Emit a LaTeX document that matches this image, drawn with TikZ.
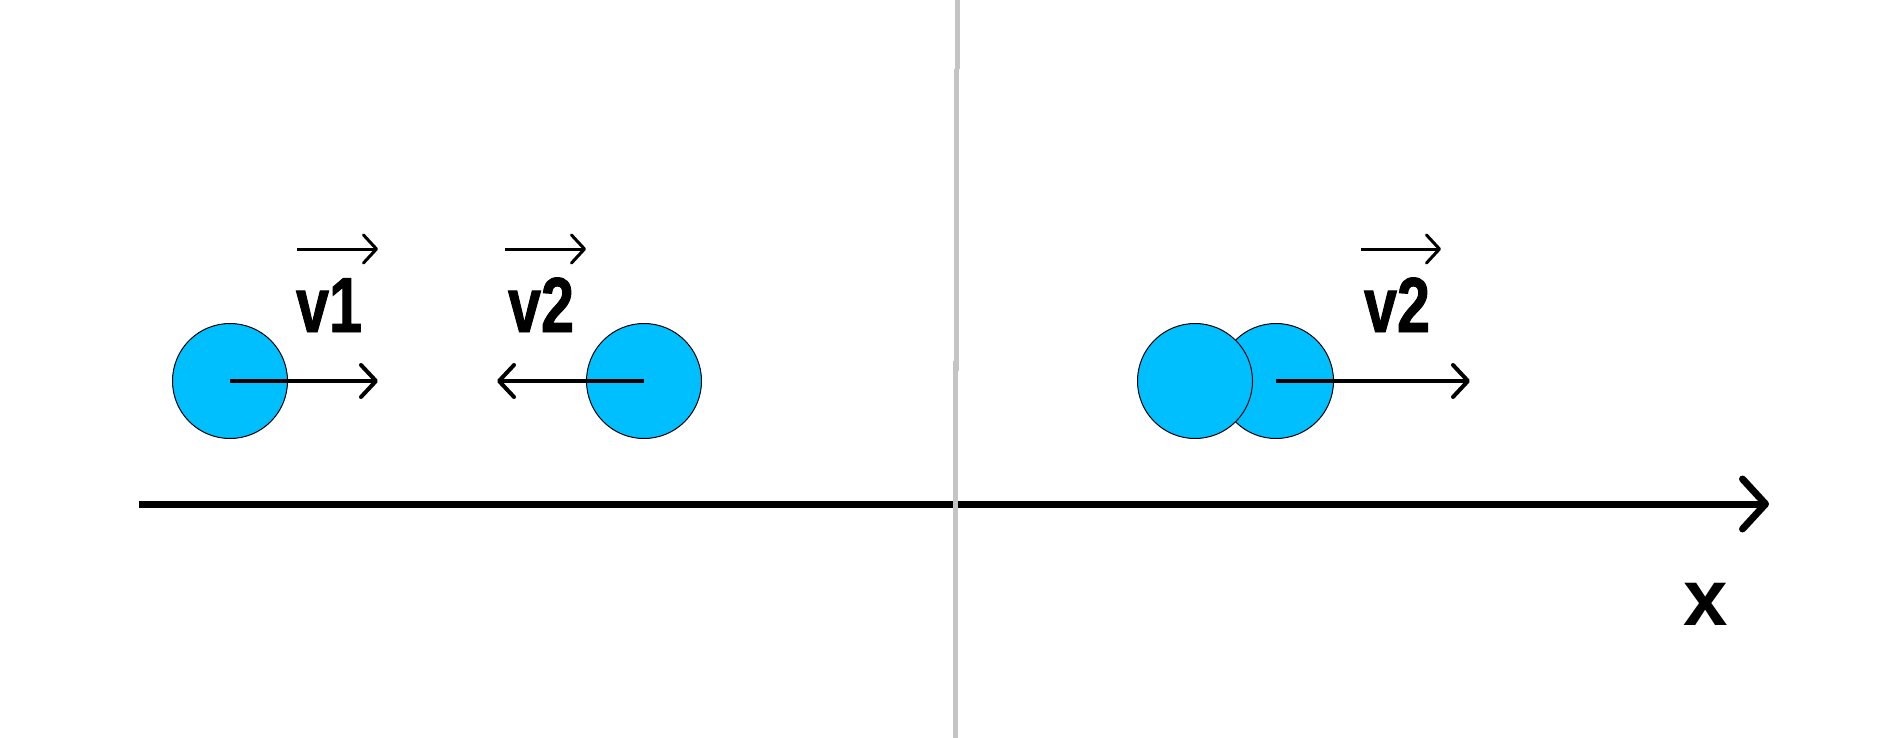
\documentclass[tikz,border=0pt]{standalone}
\usepackage{fontspec}
\usetikzlibrary{arrows.meta}
\newfontfamily\lab{Liberation Sans}[FakeStretch=0.76, FakeBold=1.2]
\newfontfamily\labx{Liberation Sans}
\definecolor{ballblue}{RGB}{0,191,255}
\definecolor{divgray}{RGB}{196,196,196}
\tikzset{
  ball/.style={circle, draw=black, line width=1pt, fill=ballblue, minimum size=115pt, inner sep=0pt},
  vel/.style={line width=4pt, -{Straight Barb[length=15pt, width=32pt, line cap=round, line join=round]}},
  vecmark/.style={line width=3pt, -{Straight Barb[length=13pt, width=28pt, line cap=round, line join=round]}},
  axis/.style={line width=7pt, -{Straight Barb[length=23pt, width=50pt, line cap=round, line join=round]}},
  divider/.style={line width=5pt, draw=divgray},
  vlabel/.style={anchor=base, inner sep=0pt, font=\lab\bfseries\fontsize{78}{78}\selectfont},
  xlabel/.style={anchor=base, inner sep=0pt, font=\labx\bfseries\fontsize{80}{80}\selectfont}
}
\begin{document}
\begin{tikzpicture}[x=1pt, y=-1pt]
\useasboundingbox (0,0) rectangle (1903,738);
\fill[white] (0,0) rectangle (1903,738);
% axis
\coordinate (axL) at (139,504);
\coordinate (axR) at (1769,504);
\draw[axis] (axL) -- (axR);
\node[xlabel] (xl) at (1706,625) {x};
% divider
\coordinate (d1) at (957,0);
\coordinate (d2) at (957,69);
\coordinate (d3) at (956,69);
\coordinate (d4) at (956,371);
\coordinate (d5) at (955,361);
\coordinate (d6) at (955,738);
\draw[divider] (d1) -- (d2);
\draw[divider] (d3) -- (d4);
\draw[divider] (d5) -- (d6);
% left balls
\node[ball] (b1) at (230,381) {};
\node[ball] (b2) at (644,381) {};
\coordinate (b1v) at (378,381);
\coordinate (b2v) at (497,381);
\draw[vel] (b1.center) -- (b1v);
\draw[vel] (b2.center) -- (b2v);
\node[vlabel] (l1) at (329,332) {v1};
\node[vlabel] (l2) at (541,332) {v2};
\coordinate (m1a) at (297,249);
\coordinate (m1b) at (378,249);
\coordinate (m2a) at (505,249);
\coordinate (m2b) at (586,249);
\draw[vecmark] (m1a) -- (m1b);
\draw[vecmark] (m2a) -- (m2b);
% right balls
\node[ball] (b4) at (1276,381) {};
\node[ball] (b3) at (1195,381) {};
\coordinate (b4v) at (1470,381);
\draw[vel] (b4.center) -- (b4v);
\node[vlabel] (l3) at (1397,332) {v2};
\coordinate (m3a) at (1361,249);
\coordinate (m3b) at (1441,249);
\draw[vecmark] (m3a) -- (m3b);
\end{tikzpicture}
\end{document}
